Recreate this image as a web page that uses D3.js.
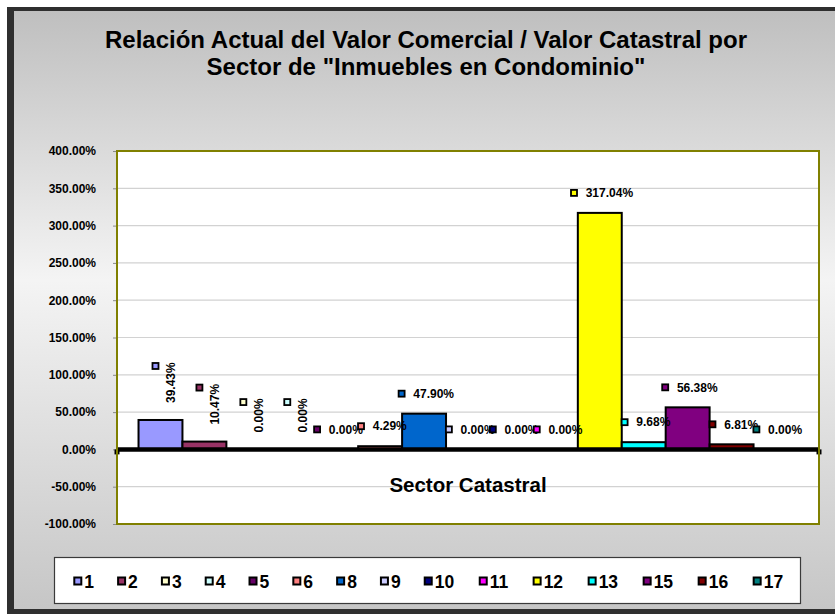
<!DOCTYPE html>
<html>
<head>
<meta charset="utf-8">
<script src="https://cdn.jsdelivr.net/npm/d3@7/dist/d3.min.js"></script>
<style>
  body { margin: 0; background: #fff; }
  text { font-family: Arial, "Liberation Sans", sans-serif; font-weight: bold; }
</style>
</head>
<body>
<div id="chart"></div>
<script>
const width = 835, height = 614;

// data
const sectors = ["1", "2", "3", "4", "5", "6", "8", "9", "10", "11", "12", "13", "15", "16", "17"];
const values = [39.43, 10.47, 0, 0, 0, 4.29, 47.90, 0, 0, 0, 317.04, 9.68, 56.38, 6.81, 0];
const colors = ["#9999ff", "#993366", "#ffffcc", "#ccffff", "#660066", "#ff8080", "#0066cc", "#ccccff",
                "#000080", "#ff00ff", "#ffff00", "#00ffff", "#800080", "#800000", "#008080"];
const yTicks = [-100, -50, 0, 50, 100, 150, 200, 250, 300, 350, 400];
const titleLines = ['Relación Actual del Valor Comercial / Valor Catastral por', 'Sector de "Inmuebles en Condominio"'];
const xTitle = "Sector Catastral";

const plot = {left: 117, right: 819, top: 151, bottom: 524};

let svg = d3.select("#chart")
    .append("svg")
    .attr("width", width)
    .attr("height", height);

// background gradient of the chart area
let grad = svg.append("defs").append("linearGradient")
    .attr("id", "bg")
    .attr("x1", 0).attr("y1", 0).attr("x2", 0).attr("y2", 1);
grad.append("stop").attr("offset", "0%").attr("stop-color", "#bfbfbf");
grad.append("stop").attr("offset", "45%").attr("stop-color", "#f4f4f4");
grad.append("stop").attr("offset", "100%").attr("stop-color", "#c6c6c6");

svg.append("rect")
    .attr("x", 7).attr("y", 7)
    .attr("width", width).attr("height", height)
    .attr("fill", "#2f2f2f");
svg.append("rect")
    .attr("x", 14).attr("y", 11)
    .attr("width", width).attr("height", 598)
    .attr("fill", "url(#bg)");

// title
svg.append("g").selectAll("text")
    .data(titleLines)
    .enter()
    .append("text")
    .attr("x", 426)
    .attr("y", function(d, i) { return 47.5 + i * 27; })
    .style("text-anchor", "middle")
    .style("font-size", "24px")
    .text(function(d) { return d; });

// scales
let x = d3.scaleBand()
    .domain(sectors)
    .range([plot.left, plot.right])
    .paddingInner(0)
    .paddingOuter(0.49);

let y = d3.scaleLinear()
    .domain([-100, 400])
    .range([plot.bottom, plot.top]);

// plot area
svg.append("rect")
    .attr("x", plot.left).attr("y", plot.top)
    .attr("width", plot.right - plot.left)
    .attr("height", plot.bottom - plot.top)
    .attr("fill", "#fff");

svg.append("g").selectAll("line")
    .data(yTicks.filter(function(d) { return d > -100 && d < 400 && d != 0; }))
    .enter()
    .append("line")
    .attr("x1", plot.left).attr("x2", plot.right)
    .attr("y1", function(d) { return y(d); })
    .attr("y2", function(d) { return y(d); })
    .attr("stroke", "#d2d2d2")
    .attr("stroke-width", 1.2);

// y axis
let yAxis = svg.append("g")
    .attr("transform", `translate(${plot.left}, 0)`)
    .call(d3.axisLeft(y)
        .tickValues(yTicks)
        .tickSize(4)
        .tickPadding(17)
        .tickFormat(function(d) { return d.toFixed(2) + "%"; }));
yAxis.select(".domain").remove();
yAxis.selectAll("line").attr("stroke", "#888");
yAxis.selectAll("text")
    .style("font-size", "12px")
    .style("font-family", "Arial, 'Liberation Sans', sans-serif")
    .style("font-weight", "bold")
    .attr("fill", "#000");

// bars
svg.append("g").selectAll("rect")
    .data(values)
    .enter()
    .append("rect")
    .attr("x", function(d, i) { return x(sectors[i]); })
    .attr("y", function(d) { return y(d); })
    .attr("width", x.bandwidth())
    .attr("height", function(d) { return y(0) - y(d); })
    .attr("fill", function(d, i) { return colors[i]; })
    .attr("stroke", "#000")
    .attr("stroke-width", 2);

// zero line
svg.append("line")
    .attr("x1", plot.left).attr("x2", plot.right)
    .attr("y1", y(0)).attr("y2", y(0))
    .attr("stroke", "#000")
    .attr("stroke-width", 4.5);
svg.append("g").selectAll("rect")
    .data([plot.left, plot.right])
    .enter()
    .append("rect")
    .attr("x", function(d) { return d - 2.5; })
    .attr("y", y(0))
    .attr("width", 5).attr("height", 5)
    .attr("fill", "#000");

// plot border
svg.append("rect")
    .attr("x", plot.left).attr("y", plot.top)
    .attr("width", plot.right - plot.left)
    .attr("height", plot.bottom - plot.top)
    .attr("fill", "none")
    .attr("stroke", "#808000")
    .attr("stroke-width", 2);

// x axis title
svg.append("text")
    .attr("x", (plot.left + plot.right) / 2)
    .attr("y", 491.5)
    .style("text-anchor", "middle")
    .style("font-size", "20.5px")
    .text(xTitle);

// data labels (first four are rotated in the original)
let labels = svg.append("g");
values.forEach(function(v, i) {
    let cx = x(sectors[i]) + x.bandwidth() / 2;
    let top = y(v);
    let t = labels.append("text")
        .style("font-size", "12px")
        .text(v.toFixed(2) + "%");
    let len = t.node().getComputedTextLength();
    let mx, my;
    if (i < 4) {
        t.attr("transform", `translate(${cx + 10.7}, ${top - 17}) rotate(-90)`)
            .attr("dy", "0.35em");
        mx = cx - 5;
        my = top - 17 - len + 3.7;
    } else {
        let left = cx - (15.2 + len) / 2 + 2;
        mx = left + 3.5;
        my = top - 20;
        t.attr("x", mx + 11.7).attr("y", my).attr("dy", "0.35em");
    }
    labels.append("rect")
        .attr("x", mx - 3).attr("y", my - 3)
        .attr("width", 6).attr("height", 6)
        .attr("fill", colors[i])
        .attr("stroke", "#000")
        .attr("stroke-width", 1.8);
});

// legend
let legend = svg.append("g");
legend.append("rect")
    .attr("x", 54.5).attr("y", 557.5)
    .attr("width", 746).attr("height", 46)
    .attr("fill", "#fff")
    .attr("stroke", "#3a3a3a")
    .attr("stroke-width", 1.2);

let lx = 73.3;
sectors.forEach(function(s, i) {
    legend.append("rect")
        .attr("x", lx + 1).attr("y", 577.5)
        .attr("width", 7).attr("height", 7)
        .attr("fill", colors[i])
        .attr("stroke", "#000")
        .attr("stroke-width", 2);
    let t = legend.append("text")
        .attr("x", lx + 11)
        .attr("y", 588.3)
        .style("font-size", "17.5px")
        .text(s);
    let len = t.node().getComputedTextLength();
    lx = lx + 32.6 + 1.151 * len;
});
</script>
</body>
</html>
